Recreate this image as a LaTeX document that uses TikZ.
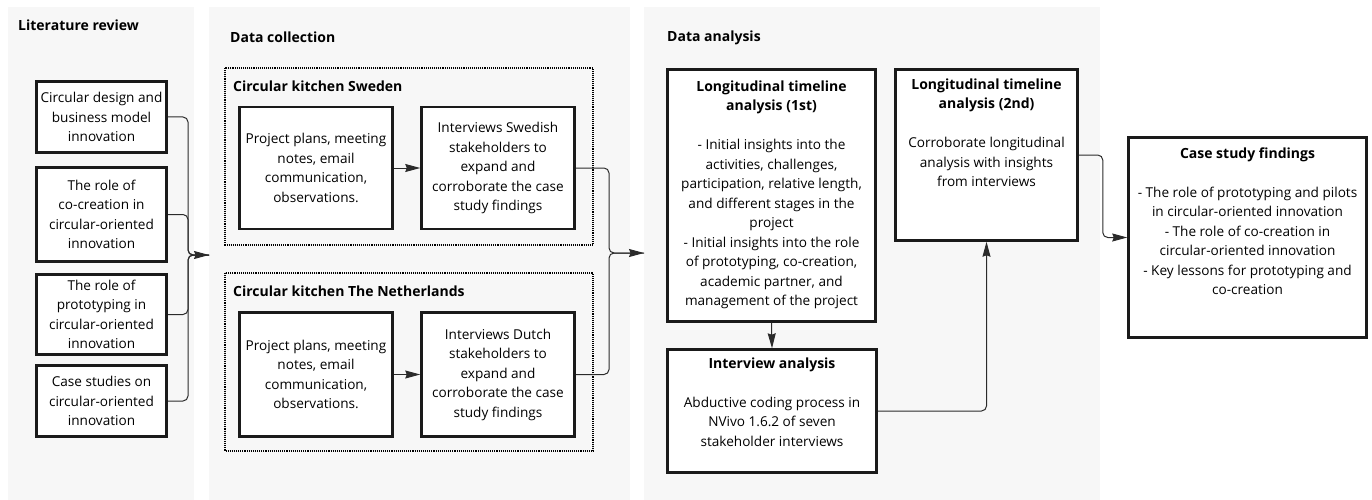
\documentclass[tikz,border=0pt]{standalone}
\usepackage{fontspec}
\setmainfont{Open Sans}
\usetikzlibrary{arrows.meta}
\definecolor{panelgray}{HTML}{F7F7F7}
\definecolor{boxblack}{HTML}{1A1A1A}
\definecolor{conngray}{HTML}{2B2B2B}
\newcommand{\bodyfont}{\fontsize{13.6}{19.5}\selectfont}
\newcommand{\headfont}{\fontsize{14}{19.5}\selectfont\bfseries}
\begin{document}
\begin{tikzpicture}[x=1pt,y=-1pt,
  panel/.style={fill=panelgray, draw=none},
  box/.style={draw=boxblack, line width=2.5pt, fill=white, inner sep=0pt, align=center, font=\bodyfont},
  txt/.style={inner sep=0pt, align=center, font=\bodyfont, anchor=north},
  ptitle/.style={inner sep=0pt, anchor=west, font=\headfont},
  kitchen/.style={draw=black, line width=2.3pt, dash pattern=on 1.1pt off 1pt},
  conn/.style={draw=conngray, line width=1pt, rounded corners=5pt},
  arr/.style={-{Stealth[length=15pt,width=8pt,inset=1.5pt]}}
]
\useasboundingbox (0,0) rectangle (1372,500);
% panels
\fill[panel] (8,7) rectangle (194,500);
\fill[panel] (209,7) rectangle (630,500);
\fill[panel] (644,7) rectangle (1100,500);
\node[ptitle] (t1) at (18,25) {Literature review};
\node[ptitle] (t2) at (230,37) {Data collection};
\node[ptitle] (t3) at (667,38) {Data analysis};

% literature boxes
\node[box, minimum width=130, minimum height=71] (b1) at (101.5,117) {Circular design and\\business model\\innovation};
\node[box, minimum width=130, minimum height=94] (b2) at (101.5,214.5) {The role of\\co-creation in\\circular-oriented\\innovation};
\node[box, minimum width=130, minimum height=80] (b3) at (101.5,314.5) {The role of\\prototyping in\\circular-oriented\\innovation};
\node[box, minimum width=130, minimum height=71] (b4) at (101.5,401) {Case studies on\\circular-oriented\\innovation};
\coordinate (bus1) at (188,255);
\coordinate (tip1) at (209,255);
\draw[conn] (b1.east) -| (bus1) -- (tip1);
\draw[conn] (b2.east) -| (bus1) -- (tip1);
\draw[conn] (b3.east) -| (bus1) -- (tip1);
\draw[conn, arr] (b4.east) -| (bus1) -- (tip1);

% data collection
\draw[kitchen] (225,68) rectangle (593,245);
\draw[kitchen] (225,273) rectangle (593,451);
\node[ptitle] (k1) at (233,86) {Circular kitchen Sweden};
\node[ptitle] (k2) at (233,291) {Circular kitchen The Netherlands};
\node[box, minimum width=153, minimum height=122] (a1) at (316,168) {Project plans, meeting\\notes, email\\communication,\\observations.};
\node[box, minimum width=153, minimum height=122] (a2) at (498,168) {Interviews Swedish\\stakeholders to\\expand and\\corroborate the case\\study findings};
\node[box, minimum width=153, minimum height=124] (n1) at (316,374.5) {Project plans, meeting\\notes, email\\communication,\\observations.};
\node[box, minimum width=153, minimum height=124] (n2) at (498,374.5) {Interviews Dutch\\stakeholders to\\expand and\\corroborate the case\\study findings};
\draw[conn, arr] (a1.east) -- (a2.west);
\draw[conn, arr] (n1.east) -- (n2.west);
\coordinate (bus2) at (609,253);
\coordinate (tip2) at (644,253);
\draw[conn] (a2.east) -| (bus2) -- (tip2);
\draw[conn, arr] (n2.east) -| (bus2) -- (tip2);

% data analysis
\node[box, minimum width=208, minimum height=252] (l1) at (771.5,195.5) {};
\node[txt] (l1t) at ([yshift=-12pt]l1.north) {{\headfont Longitudinal timeline}\\{\headfont analysis (1st)}\\[19.5pt]- Initial insights into the\\activities, challenges,\\participation, relative length,\\and different stages in the\\project\\- Initial insights into the role\\of prototyping, co-creation,\\academic partner, and\\management of the project};
\node[box, minimum width=209, minimum height=123] (ia) at (772,411) {};
\node[txt] (iat) at ([yshift=-9pt]ia.north) {{\headfont Interview analysis}\\[19.5pt]Abductive coding process in\\NVivo 1.6.2 of seven\\stakeholder interviews};
\node[box, minimum width=182, minimum height=171] (l2) at (986.5,155) {};
\node[txt] (l2t) at ([yshift=-10pt]l2.north) {{\headfont Longitudinal timeline}\\{\headfont analysis (2nd)}\\[19.5pt]Corroborate longitudinal\\analysis with insights\\from interviews};
\node[box, minimum width=238, minimum height=200] (cs) at (1247.5,237.5) {};
\node[txt] (cst) at ([yshift=-11pt]cs.north) {{\headfont Case study findings}\\[19.5pt]- The role of prototyping and pilots\\in circular-oriented innovation\\- The role of co-creation in\\circular-oriented innovation\\- Key lessons for prototyping and\\co-creation};
\draw[conn, arr] (l1.south) -- (ia.north);
\draw[conn, arr] (ia.east) -| (l2.south);
\draw[conn, arr] (l2.east) -- ++(24,0) |- (cs.west);
\end{tikzpicture}
\end{document}
